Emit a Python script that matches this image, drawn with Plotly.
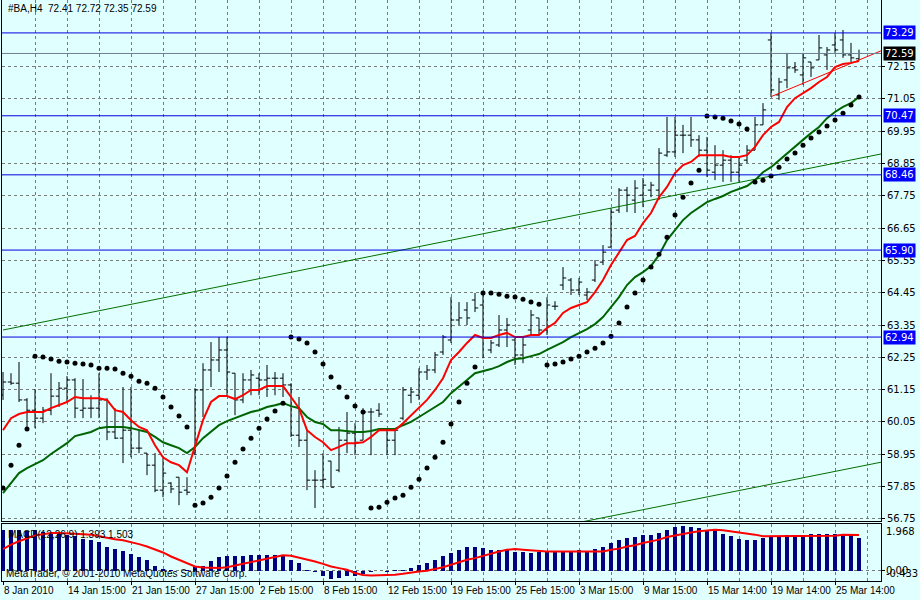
import plotly.graph_objects as go

# ---------------- data ----------------
bar_index = list(range(108))

opens = [60.97, 61.41, 61.37, 60.80, 60.45, 60.18, 60.45, 60.93, 61.20, 61.48,
         60.45, 60.52, 60.52, 60.80, 59.71, 59.50, 59.77, 59.16, 58.99, 58.58,
         57.73, 57.97, 58.17, 57.73, 58.99, 61.14, 61.82, 62.16, 62.50, 61.71,
         60.80, 61.48, 61.54, 61.48, 61.54, 61.54, 61.31, 59.60, 59.43, 58.07,
         58.07, 58.72, 58.41, 59.43, 59.67, 59.43, 60.39, 60.45, 59.77, 59.43,
         60.18, 60.96, 60.96, 61.75, 61.82, 62.43, 62.84, 63.52, 63.86, 64.20,
         64.03, 62.50, 62.67, 63.18, 62.84, 62.33, 63.18, 63.59, 63.18, 63.99,
         64.71, 64.88, 64.54, 64.37, 64.88, 65.49, 66.00, 67.26, 67.94, 67.60,
         67.77, 67.94, 67.94, 69.13, 69.24, 69.81, 69.81, 69.65, 69.30, 68.55,
         68.79, 68.96, 68.55, 68.96, 69.30, 70.16, 73.05, 71.18, 71.69, 72.10,
         71.86, 72.30, 72.37, 72.54, 72.88, 73.05, 72.54, 72.41]
highs = [61.75, 61.71, 62.09, 60.86, 61.17, 60.56, 61.71, 61.41, 61.61, 61.54,
         61.51, 60.96, 61.71, 60.86, 60.52, 61.24, 61.24, 59.77, 58.99, 58.99,
         58.82, 58.00, 58.17, 58.17, 61.20, 62.05, 62.77, 62.94, 62.94, 61.71,
         61.71, 61.82, 61.71, 61.99, 61.75, 61.71, 61.37, 60.90, 59.77, 58.41,
         58.99, 58.72, 59.88, 60.39, 60.01, 60.52, 60.52, 60.69, 59.84, 59.84,
         61.24, 61.24, 61.88, 61.99, 62.43, 63.01, 64.30, 64.13, 64.13, 64.44,
         64.44, 62.84, 63.69, 63.59, 62.91, 62.91, 63.86, 63.59, 64.30, 64.16,
         65.32, 64.95, 64.95, 64.61, 65.56, 66.07, 67.33, 68.01, 68.05, 68.28,
         68.35, 68.22, 69.37, 70.43, 70.43, 70.16, 70.43, 69.81, 69.75, 69.47,
         69.30, 69.13, 69.03, 69.47, 70.43, 70.90, 73.29, 71.76, 72.61, 72.30,
         72.61, 72.30, 73.22, 72.81, 73.29, 73.39, 72.95, 72.72]
lows = [60.80, 61.31, 60.73, 59.88, 59.84, 60.01, 60.28, 60.56, 60.73, 60.18,
        60.18, 60.18, 60.18, 59.43, 59.47, 58.65, 58.85, 58.99, 58.24, 57.66,
        57.49, 57.63, 57.22, 57.56, 58.92, 60.22, 61.24, 61.75, 60.96, 60.28,
        60.69, 60.96, 60.96, 60.90, 60.96, 60.90, 59.54, 59.20, 57.73, 57.12,
        57.80, 57.83, 58.34, 58.99, 58.92, 59.43, 58.92, 60.22, 58.92, 58.92,
        60.11, 60.69, 60.80, 61.48, 61.71, 62.33, 62.74, 63.35, 63.35, 63.79,
        62.22, 62.39, 62.60, 62.60, 61.99, 62.05, 63.01, 63.01, 63.01, 63.86,
        64.54, 64.37, 64.37, 64.20, 64.81, 65.39, 66.00, 67.16, 67.19, 67.16,
        67.36, 67.70, 67.60, 69.07, 69.07, 69.20, 69.41, 69.07, 68.39, 68.28,
        68.22, 68.22, 68.22, 68.86, 69.30, 70.16, 71.11, 71.01, 71.41, 71.93,
        71.52, 71.79, 72.37, 72.03, 72.61, 72.44, 72.30, 72.35]
closes = [61.41, 61.37, 60.80, 60.45, 60.18, 60.45, 60.93, 61.20, 61.48, 60.52,
          60.52, 60.52, 60.80, 59.71, 59.50, 59.77, 59.16, 59.16, 58.58, 57.73,
          58.31, 57.77, 57.66, 57.66, 61.14, 61.82, 62.16, 62.50, 61.75, 60.80,
          61.48, 61.65, 61.48, 61.54, 61.54, 61.31, 59.60, 59.43, 58.07, 58.07,
          58.10, 57.83, 59.43, 59.67, 59.36, 60.39, 60.39, 60.32, 59.43, 59.77,
          61.14, 61.07, 61.75, 61.82, 62.33, 62.94, 63.52, 63.59, 63.59, 63.93,
          62.91, 62.74, 63.18, 63.35, 62.33, 62.67, 63.69, 63.18, 64.03, 63.99,
          64.95, 64.54, 64.81, 64.47, 65.39, 65.83, 67.19, 67.94, 67.77, 68.01,
          68.11, 68.11, 69.20, 69.24, 69.81, 69.81, 69.65, 69.30, 68.62, 68.79,
          68.96, 68.55, 68.79, 69.30, 70.16, 70.67, 71.35, 71.62, 72.10, 72.03,
          72.44, 72.10, 72.78, 72.71, 72.71, 72.54, 72.44, 72.59]

ma_fast = [59.77, 60.18, 60.32, 60.39, 60.39, 60.39, 60.52, 60.62, 60.73, 60.90,
           60.86, 60.86, 60.86, 60.80, 60.45, 60.39, 60.11, 59.88, 59.77, 59.26,
           58.85, 58.68, 58.58, 58.34, 59.26, 60.11, 60.73, 60.93, 60.93, 60.83,
           60.96, 61.14, 61.14, 61.27, 61.27, 61.27, 60.90, 60.52, 59.77, 59.54,
           59.36, 59.09, 59.20, 59.33, 59.33, 59.36, 59.54, 59.77, 59.77, 59.77,
           60.01, 60.28, 60.56, 60.80, 61.14, 61.54, 62.16, 62.43, 62.74, 63.01,
           62.91, 62.91, 63.01, 63.08, 62.94, 62.94, 63.01, 63.01, 63.25, 63.42,
           63.76, 63.93, 64.03, 64.13, 64.47, 64.88, 65.39, 65.83, 66.24, 66.38,
           66.82, 67.16, 67.70, 68.05, 68.52, 68.79, 68.90, 69.13, 69.13, 69.13,
           69.13, 69.07, 69.07, 69.13, 69.41, 69.81, 70.09, 70.26, 70.77, 71.07,
           71.24, 71.41, 71.62, 71.79, 72.13, 72.23, 72.27, 72.33]
ma_slow = [57.63, 57.97, 58.31, 58.48, 58.61, 58.75, 58.96, 59.16, 59.33, 59.57,
           59.64, 59.71, 59.84, 59.88, 59.88, 59.88, 59.84, 59.77, 59.71, 59.54,
           59.36, 59.26, 59.16, 58.99, 59.20, 59.50, 59.71, 59.94, 60.08, 60.18,
           60.28, 60.39, 60.45, 60.56, 60.62, 60.69, 60.59, 60.52, 60.22, 60.05,
           59.98, 59.77, 59.77, 59.74, 59.71, 59.71, 59.74, 59.81, 59.81, 59.81,
           59.94, 60.05, 60.22, 60.39, 60.56, 60.73, 61.03, 61.24, 61.48, 61.71,
           61.78, 61.85, 61.95, 62.09, 62.19, 62.22, 62.29, 62.36, 62.50, 62.63,
           62.77, 62.94, 63.08, 63.21, 63.38, 63.62, 63.96, 64.30, 64.71, 64.98,
           65.15, 65.36, 65.73, 66.24, 66.58, 66.92, 67.16, 67.36, 67.53, 67.64,
           67.74, 67.88, 67.98, 68.08, 68.28, 68.55, 68.72, 68.96, 69.20, 69.41,
           69.65, 69.88, 70.09, 70.39, 70.60, 70.77, 70.90, 71.11]
sar = [57.80, 58.58, 59.26, 59.81, 62.29, 62.26, 62.19, 62.12, 62.09, 62.05,
       62.02, 61.99, 61.88, 61.88, 61.85, 61.71, 61.61, 61.44, 61.37, 61.20,
       60.90, 60.56, 60.25, 59.88, 57.22, 57.29, 57.49, 57.80, 58.21, 58.68,
       59.13, 59.50, 59.84, 60.15, 60.42, 60.69, 62.94, 62.87, 62.74, 62.43,
       62.02, 61.58, 61.24, 60.90, 60.59, 60.39, 57.12, 57.15, 57.32, 57.46,
       57.56, 57.83, 58.10, 58.48, 58.85, 59.36, 59.98, 60.73, 61.37, 61.92,
       64.44, 64.44, 64.40, 64.33, 64.30, 64.23, 64.13, 64.06, 61.99, 62.02,
       62.09, 62.19, 62.29, 62.43, 62.56, 62.74, 62.97, 63.42, 63.96, 64.44,
       64.88, 65.32, 65.76, 66.34, 67.09, 67.70, 68.18, 68.62, 70.46, 70.43,
       70.39, 70.29, 70.19, 70.02, 68.22, 68.28, 68.42, 68.72, 69.00, 69.20,
       69.47, 69.71, 69.92, 70.12, 70.33, 70.56, 70.84, 71.11]

macd_main = [1.70, 1.73, 1.70, 1.68, 1.70, 1.64, 1.61, 1.59, 1.52, 1.45,
             1.33, 1.28, 1.21, 1.02, 0.93, 0.84, 0.70, 0.56, 0.44, 0.22,
             0.07, 0.02, -0.03, 0.01, 0.15, 0.21, 0.39, 0.56, 0.63, 0.60,
             0.60, 0.67, 0.67, 0.67, 0.65, 0.60, 0.44, 0.32, 0.04, -0.06,
             -0.24, -0.35, -0.31, -0.24, -0.21, -0.13, -0.06, -0.03, -0.06, 0.01,
             0.04, 0.11, 0.25, 0.32, 0.46, 0.60, 0.74, 0.86, 0.98, 1.02,
             0.95, 0.88, 0.86, 0.88, 0.80, 0.77, 0.74, 0.77, 0.81, 0.81,
             0.81, 0.81, 0.88, 0.81, 0.91, 0.98, 1.17, 1.31, 1.38, 1.42,
             1.49, 1.49, 1.59, 1.73, 1.84, 1.87, 1.83, 1.80, 1.70, 1.66,
             1.56, 1.45, 1.35, 1.31, 1.31, 1.38, 1.42, 1.45, 1.49, 1.52,
             1.52, 1.54, 1.56, 1.56, 1.56, 1.54, 1.47, 1.39]
macd_signal = [0.91, 1.10, 1.24, 1.38, 1.49, 1.54, 1.59, 1.59, 1.59, 1.56,
               1.54, 1.52, 1.45, 1.38, 1.33, 1.28, 1.21, 1.12, 1.02, 0.91,
               0.77, 0.60, 0.46, 0.29, 0.18, 0.14, 0.11, 0.11, 0.15, 0.22,
               0.29, 0.39, 0.46, 0.53, 0.60, 0.65, 0.63, 0.56, 0.46, 0.39,
               0.29, 0.18, 0.11, 0.04, -0.10, -0.18, -0.20, -0.20, -0.20, -0.17,
               -0.13, -0.07, -0.03, 0.00, 0.07, 0.15, 0.25, 0.37, 0.46, 0.53,
               0.63, 0.70, 0.81, 0.88, 0.91, 0.88, 0.86, 0.81, 0.81, 0.81,
               0.81, 0.81, 0.81, 0.81, 0.81, 0.81, 0.88, 0.93, 1.02, 1.07,
               1.17, 1.24, 1.31, 1.42, 1.49, 1.56, 1.61, 1.66, 1.68, 1.73,
               1.70, 1.66, 1.61, 1.59, 1.52, 1.45, 1.45, 1.45, 1.45, 1.45,
               1.45, 1.45, 1.45, 1.47, 1.47, 1.52, 1.52, 1.50]

level_prices = [73.29, 70.47, 68.46, 65.90, 62.94]
bid_price = 72.59
price_ticks = [56.75, 57.85, 58.95, 60.05, 61.15, 62.25, 63.35, 64.45,
               65.55, 66.65, 67.75, 68.85, 69.95, 71.05, 72.15]
date_tick_pos = [0, 8, 16, 24, 32, 40, 48, 56, 64, 72, 80, 88, 96, 104]
date_tick_labels = ["8 Jan 2010", "14 Jan 15:00", "21 Jan 15:00", "27 Jan 15:00",
                    "2 Feb 15:00", "8 Feb 15:00", "12 Feb 15:00", "19 Feb 15:00",
                    "25 Feb 15:00", "3 Mar 15:00", "9 Mar 15:00", "15 Mar 14:00",
                    "19 Mar 14:00", "25 Mar 14:00"]
macd_scale_labels = [1.968, 0.0, -0.433]

# trendline anchors (bar index, price)
channel_upper_x = [0, 109.75]
channel_upper_y = [63.18, 69.17]
channel_lower_x = [72, 109.75]
channel_lower_y = [56.63, 58.68]
red_trend_x = [96, 109.75]
red_trend_y = [71.12, 72.68]

# ---------------- styling ----------------
BG = "#E0FFFF"
GRID = "#7a7a7a"
FONT_SMALL = "Liberation Sans"
FONT_AXIS = "DejaVu Sans"
X_RANGE = [-0.125, 109.75]
Y_RANGE = [56.68, 74.41]
MACD_RANGE = [-0.433, 1.968]

fig = go.Figure()

fig.add_trace(go.Scatter(x=channel_upper_x, y=channel_upper_y, mode="lines",
                         line=dict(color="#007000", width=1), xaxis="x", yaxis="y"))
fig.add_trace(go.Scatter(x=channel_lower_x, y=channel_lower_y, mode="lines",
                         line=dict(color="#007000", width=1), xaxis="x", yaxis="y"))
fig.add_trace(go.Scatter(x=red_trend_x, y=red_trend_y, mode="lines",
                         line=dict(color="#FF0000", width=1), xaxis="x", yaxis="y"))

fig.add_trace(go.Ohlc(x=bar_index, open=opens, high=highs, low=lows, close=closes,
                      increasing=dict(line=dict(color="black", width=1)),
                      decreasing=dict(line=dict(color="black", width=1)),
                      tickwidth=0.4, xaxis="x", yaxis="y"))

fig.add_trace(go.Scatter(x=bar_index, y=ma_slow, mode="lines",
                         line=dict(color="#006400", width=2), xaxis="x", yaxis="y"))
fig.add_trace(go.Scatter(x=bar_index, y=ma_fast, mode="lines",
                         line=dict(color="#FF0000", width=2), xaxis="x", yaxis="y"))

fig.add_trace(go.Scatter(x=bar_index, y=sar, mode="markers",
                         marker=dict(color="black", size=5, symbol="circle"),
                         xaxis="x", yaxis="y"))

fig.add_trace(go.Bar(x=bar_index, y=macd_main, width=0.5,
                     marker=dict(color="#000080", line=dict(width=0)),
                     xaxis="x2", yaxis="y2"))
fig.add_trace(go.Scatter(x=bar_index, y=macd_signal, mode="lines",
                         line=dict(color="#FF0000", width=2), xaxis="x2", yaxis="y2"))

shapes = []
for lv in level_prices:
    shapes.append(dict(type="line", xref="x domain", yref="y", x0=0, x1=1, y0=lv, y1=lv,
                       line=dict(color="#0000E0", width=1), layer="above"))
shapes.append(dict(type="line", xref="x domain", yref="y", x0=0, x1=1, y0=bid_price, y1=bid_price,
                   line=dict(color="#708090", width=1), layer="above"))

annotations = []
for lv in level_prices:
    annotations.append(dict(x=1, xref="paper", y=lv, yref="y", xanchor="left", yanchor="middle",
                            xshift=2, text=f"{lv:.2f}", showarrow=False, bgcolor="#0000FF",
                            borderpad=1, font=dict(family=FONT_AXIS, size=10, color="white")))
annotations.append(dict(x=1, xref="paper", y=bid_price, yref="y", xanchor="left", yanchor="middle",
                        xshift=2, text=f"{bid_price:.2f}", showarrow=False, bgcolor="black",
                        borderpad=1, font=dict(family=FONT_AXIS, size=10, color="white")))
annotations.append(dict(x=0, xref="paper", y=1, yref="paper", xanchor="left", yanchor="top",
                        xshift=4, yshift=-1, showarrow=False,
                        text="#BA,H4  72.41 72.72 72.35 72.59",
                        font=dict(family=FONT_SMALL, size=10, color="black")))
annotations.append(dict(x=0, xref="x2 domain", y=1, yref="y2 domain", xanchor="left", yanchor="top",
                        xshift=4, yshift=-3, showarrow=False,
                        text="MACD(12,26,9) 1.393 1.503",
                        font=dict(family=FONT_SMALL, size=10, color="black")))
annotations.append(dict(x=0, xref="x2 domain", y=0, yref="y2 domain", xanchor="left", yanchor="bottom",
                        xshift=2, yshift=0, showarrow=False,
                        text="MetaTrader, © 2001-2010 MetaQuotes Software Corp.",
                        font=dict(family=FONT_SMALL, size=10, color="black")))
macd_anchor = ["top", "middle", "bottom"]
macd_text = ["1.968", "0.00", "-0.433"]
for v, anc, t in zip(macd_scale_labels, macd_anchor, macd_text):
    annotations.append(dict(x=1, xref="paper", y=v, yref="y2", xanchor="left", yanchor=anc,
                            xshift=3, text=t, showarrow=False,
                            font=dict(family=FONT_AXIS, size=10, color="black")))

fig.update_layout(
    width=920, height=600,
    margin=dict(l=2, r=39, t=0, b=19, autoexpand=False),
    paper_bgcolor=BG, plot_bgcolor=BG,
    showlegend=False, hovermode=False,
    bargap=0,
    xaxis=dict(domain=[0, 1], anchor="y", range=X_RANGE, tickmode="linear", tick0=0, dtick=4,
               showticklabels=False, ticks="", showgrid=True, gridcolor=GRID, griddash="3px,3px",
               gridwidth=1, zeroline=False, showline=True, linecolor="black", linewidth=1,
               mirror=False, rangeslider=dict(visible=False)),
    yaxis=dict(domain=[60 / 581, 1], anchor="x", side="right", range=Y_RANGE,
               tickmode="array", tickvals=price_ticks, ticktext=[f"{p:.2f}" for p in price_ticks],
               ticks="outside", ticklen=3, tickcolor="black",
               tickfont=dict(family=FONT_AXIS, size=10, color="black"),
               showgrid=True, gridcolor=GRID, griddash="3px,3px", gridwidth=1, zeroline=False,
               showline=True, linecolor="black", linewidth=1, mirror=True, automargin=False),
    xaxis2=dict(domain=[0, 1], anchor="y2", range=X_RANGE, matches="x",
                tickmode="array", tickvals=date_tick_pos, ticktext=date_tick_labels,
                ticklabelposition="outside right", tickangle=0, ticks="outside", ticklen=3,
                tickcolor="black", automargin=False,
                tickfont=dict(family=FONT_SMALL, size=10, color="black"),
                showgrid=True, gridcolor=GRID, griddash="3px,3px", gridwidth=1,
                minor=dict(tickmode="linear", tick0=0, dtick=4, showgrid=True, gridcolor=GRID,
                           griddash="3px,3px", gridwidth=1, ticks=""),
                zeroline=False, showline=True, linecolor="black", linewidth=1, mirror=True),
    yaxis2=dict(domain=[0, 57 / 581], anchor="x2", side="right", range=MACD_RANGE,
                tickmode="array", tickvals=[0], showticklabels=False, ticks="outside", ticklen=3,
                tickcolor="black", showgrid=True, gridcolor=GRID, griddash="3px,3px",
                zeroline=False, showline=True, linecolor="black", linewidth=1, mirror=True),
    shapes=shapes,
    annotations=annotations,
)

fig.write_html("out.html", config={"displayModeBar": False, "staticPlot": True},
               post_script="document.body.style.margin='0';document.body.style.background='#E0FFFF';")
